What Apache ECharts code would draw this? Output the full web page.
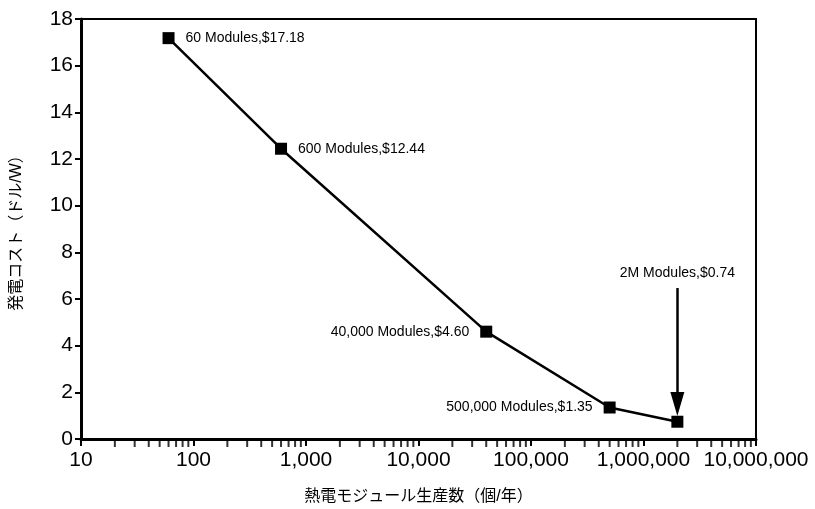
<!DOCTYPE html>
<html><head><meta charset="utf-8">
<script src="https://cdn.jsdelivr.net/npm/echarts@6/dist/echarts.min.js"></script>
<style>html,body{margin:0;padding:0;background:#fff}#c{width:815px;height:509px}</style>
</head><body><div id="c"></div>
<script>
const modules = [60, 600, 40000, 500000, 2000000];
const costs = [17.18, 12.44, 4.60, 1.35, 0.74];
const pointLabels = ['60 Modules,$17.18', '600 Modules,$12.44', '40,000 Modules,$4.60', '500,000 Modules,$1.35', '2M Modules,$0.74'];
const labelSides = ['right', 'right', 'left', 'left', 'none'];
const minorTickValues = [];
[10, 100, 1000, 10000, 100000, 1000000].forEach(d => { for (let k = 2; k <= 9; k++) minorTickValues.push(d * k); });
const arrowFrom = 6.47, arrowTo = 1.5;
const xName = '熱電モジュール生産数（個/年）';
const yName = '発電コスト（ドル/W）';

const FONT = "'Liberation Sans', 'Noto Sans CJK JP', sans-serif";
const chart = echarts.init(document.getElementById('c'));
chart.setOption({
  animation: false,
  backgroundColor: '#fff',
  textStyle: { fontFamily: FONT },
  grid: { left: 81, right: 59, top: 19, bottom: 70, show: true, borderColor: '#000', borderWidth: 2, containLabel: false, outerBoundsMode: 'none' },
  xAxis: {
    type: 'log', logBase: 10, min: 10, max: 10000000,
    name: xName, nameLocation: 'middle', nameGap: 50,
    nameTextStyle: { fontSize: 16, color: '#000', fontFamily: FONT },
    axisLine: { lineStyle: { color: '#000', width: 3 } },
    axisTick: { show: true, length: 7, lineStyle: { color: '#000', width: 2 } },
    axisLabel: { fontSize: 21, color: '#000', margin: 11, fontFamily: FONT,
      formatter: v => Number(v).toLocaleString('en-US') },
    splitLine: { show: false }
  },
  yAxis: {
    type: 'value', min: 0, max: 18, interval: 2,
    name: yName, nameLocation: 'middle', nameGap: 56,
    nameTextStyle: { fontSize: 16, color: '#000', fontFamily: FONT },
    axisLine: { show: true, lineStyle: { color: '#000', width: 3 } },
    axisTick: { show: true, length: 6, lineStyle: { color: '#000', width: 2 } },
    axisLabel: { fontSize: 21, color: '#000', margin: 8, fontFamily: FONT },
    splitLine: { show: false }
  },
  series: [
    {
      type: 'scatter', silent: true, clip: false, z: 1,
      symbol: 'rect', symbolSize: [2, 7], symbolOffset: [0, 4.5],
      itemStyle: { color: '#000' },
      data: minorTickValues.map(v => [v, 0])
    },
    {
      type: 'line', z: 5,
      data: modules.map((m, i) => ({ value: [m, costs[i]], label: { position: labelSides[i] === 'none' ? 'top' : labelSides[i] } })),
      symbol: 'rect', symbolSize: 12, showAllSymbol: true,
      lineStyle: { color: '#000', width: 2.5 },
      itemStyle: { color: '#000' },
      label: {
        show: true, fontSize: 14, color: '#000', fontFamily: FONT, distance: 11,
        formatter: p => labelSides[p.dataIndex] === 'none' ? '' : pointLabels[p.dataIndex]
      },
      markLine: {
        silent: true, animation: false,
        symbol: ['none', 'triangle'],
        lineStyle: { color: '#000', width: 2.5, type: 'solid' },
        label: { show: true, position: 'start', formatter: pointLabels[4], fontSize: 14, color: '#000', fontFamily: FONT, distance: 8 },
        data: [[
          { coord: [modules[4], arrowFrom], symbol: 'none' },
          { coord: [modules[4], arrowTo], symbol: 'triangle', symbolSize: [14, 24] }
        ]]
      }
    }
  ]
});
</script></body></html>
